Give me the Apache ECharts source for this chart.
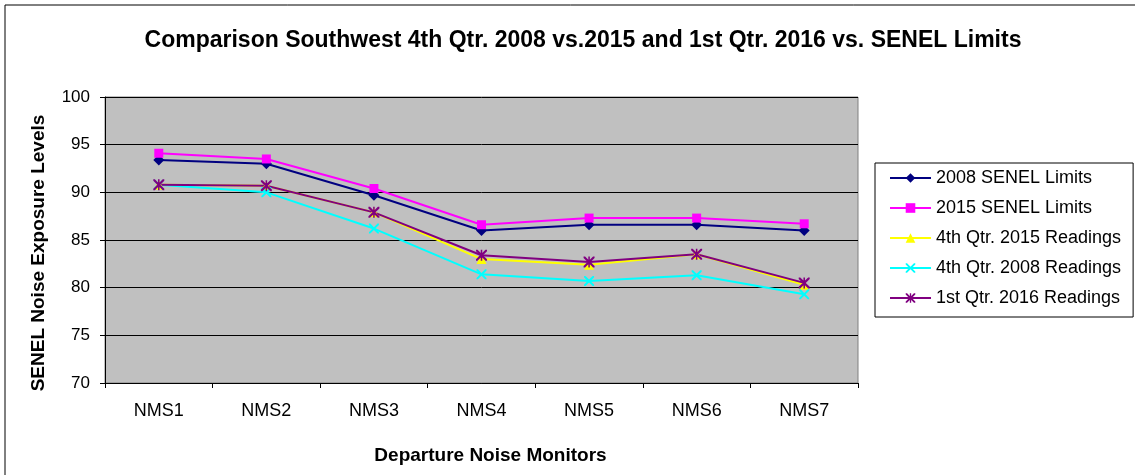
<!DOCTYPE html>
<html>
<head>
<meta charset="utf-8">
<script src="https://cdn.jsdelivr.net/npm/echarts@6/dist/echarts.min.js"></script>
<style>
  html, body { margin: 0; padding: 0; background: #fff; }
  #chart { width: 1135px; height: 475px; }
</style>
</head>
<body>
<div id="chart"></div>
<script>
var monitors = ['NMS1', 'NMS2', 'NMS3', 'NMS4', 'NMS5', 'NMS6', 'NMS7'];
var senel2008 = [93.4, 93.0, 89.7, 86.0, 86.6, 86.6, 86.0];
var senel2015 = [94.1, 93.5, 90.4, 86.6, 87.3, 87.3, 86.7];
var q4y2015 = [90.8, 90.7, 87.9, 83.0, 82.4, 83.5, 80.3];
var q4y2008 = [90.8, 90.0, 86.2, 81.4, 80.7, 81.3, 79.3];
var q1y2016 = [90.8, 90.7, 87.9, 83.4, 82.7, 83.5, 80.5];

var crossPath = 'path://M0,0L1.4,0L5,3.6L8.6,0L10,0L10,1.4L6.4,5L10,8.6L10,10L8.6,10L5,6.4L1.4,10L0,10L0,8.6L3.6,5L0,1.4Z';
var starPath = 'path://M0,0L1.4,0L5,3.6L8.6,0L10,0L10,1.4L6.4,5L10,8.6L10,10L8.6,10L5,6.4L1.4,10L0,10L0,8.6L3.6,5L0,1.4Z' +
    'M4.3,0L5.7,0L5.7,10L4.3,10Z';

var dom = document.getElementById('chart');
var myChart = echarts.init(dom);

function makeLine(name, data, color, symbol, size) {
    return {
        name: name,
        type: 'line',
        data: data,
        symbol: symbol,
        symbolSize: size,
        lineStyle: {color: color, width: 2},
        itemStyle: {color: color},
        animation: false
    };
}

var option = {
    backgroundColor: '#fff',
    title: {
        text: 'Comparison Southwest 4th Qtr. 2008 vs.2015 and 1st Qtr. 2016 vs. SENEL Limits',
        left: 578,
        textAlign: 'center',
        top: 24,
        textStyle: {fontFamily: 'Liberation Sans', fontWeight: 'bold', fontSize: 23, color: '#000'}
    },
    graphic: [{
        type: 'rect',
        shape: {x: 5, y: 5, width: 1200, height: 600},
        style: {fill: 'none', stroke: '#000', lineWidth: 1}
    }],
    legend: {
        orient: 'vertical',
        left: 875,
        top: 163,
        backgroundColor: '#fff',
        borderColor: '#000',
        borderWidth: 1,
        padding: [6, 12, 10, 14],
        itemWidth: 41,
        itemHeight: 12,
        itemGap: 12,
        textStyle: {fontFamily: 'Liberation Sans', fontSize: 18, color: '#000'},
        data: ['2008 SENEL Limits', '2015 SENEL Limits', '4th Qtr. 2015 Readings', '4th Qtr. 2008 Readings', '1st Qtr. 2016 Readings']
    },
    grid: {
        left: 105,
        right: 277,
        top: 97,
        bottom: 92,
        show: true,
        backgroundColor: '#c0c0c0',
        borderColor: '#808080',
        borderWidth: 1
    },
    xAxis: {
        type: 'category',
        data: monitors,
        boundaryGap: true,
        name: 'Departure Noise Monitors',
        nameLocation: 'middle',
        nameGap: 63,
        nameTextStyle: {fontFamily: 'Liberation Sans', fontWeight: 'bold', fontSize: 19, color: '#000', padding: [0, 0, 0, 18]},
        axisLine: {lineStyle: {color: '#000', width: 1}},
        axisTick: {show: true, length: 5, lineStyle: {color: '#000'}},
        axisLabel: {fontFamily: 'Liberation Sans', fontSize: 18, color: '#000', margin: 19}
    },
    yAxis: {
        type: 'value',
        min: 70,
        max: 100,
        interval: 5,
        name: 'SENEL Noise Exposure Levels',
        nameLocation: 'middle',
        nameGap: 57,
        nameTextStyle: {fontFamily: 'Liberation Sans', fontWeight: 'bold', fontSize: 19, color: '#000', padding: [0, 26, 0, 0]},
        axisLine: {show: true, lineStyle: {color: '#000', width: 1}},
        axisTick: {show: true, length: 5, lineStyle: {color: '#000'}},
        axisLabel: {fontFamily: 'Liberation Sans', fontSize: 17, color: '#000', margin: 15},
        splitLine: {show: true, lineStyle: {color: '#000', width: 1}}
    },
    series: [
        makeLine('2008 SENEL Limits', senel2008, '#000080', 'diamond', 11),
        makeLine('2015 SENEL Limits', senel2015, '#ff00ff', 'rect', 9),
        makeLine('4th Qtr. 2015 Readings', q4y2015, '#ffff00', 'triangle', 10),
        makeLine('4th Qtr. 2008 Readings', q4y2008, '#00ffff', crossPath, 10),
        makeLine('1st Qtr. 2016 Readings', q1y2016, '#800080', starPath, 11)
    ]
};

if (option && typeof option === "object") {
    myChart.setOption(option, true);
}
</script>
</body>
</html>
